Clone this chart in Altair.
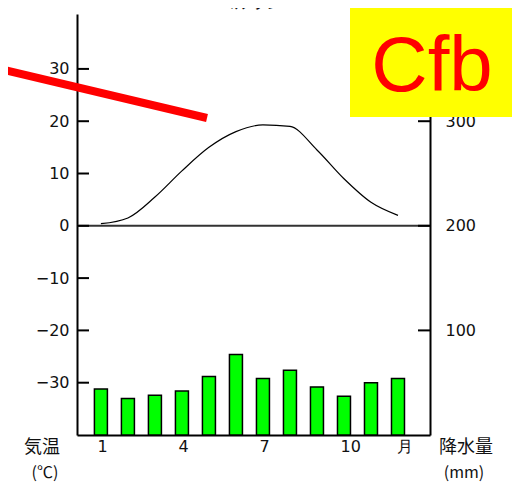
import altair as alt
import pandas as pd

# ---- data ----
months = list(range(1, 13))
temperature = [0.4, 1.5, 5.5, 10.5, 15.0, 18.0, 19.3, 19.0, 14.5, 9.0, 4.5, 2.0]
precipitation = [44, 35, 38, 42, 56, 77, 54, 62, 46, 37, 50, 54]
temp_ticks = [-30, -20, -10, 0, 10, 20, 30]
precip_ticks = [100, 200, 300]
month_ticks = [1, 4, 7, 10, 12.1]
title_text = ["ベルリン"]
badge_text = ["Cfb"]
temp_label = ["気温", "(℃)"]
precip_label = ["降水量", "(mm)"]

df = pd.DataFrame({"month": months, "temp": temperature, "precip": precipitation})
# precipitation drawn on the shared scale: 0 mm at -40 °C, 200 mm at 0 °C
P_PER_DEG = 5.0
P_BASE = -40.0
ptick_df = pd.DataFrame({"p": precip_ticks})

FONT = "Noto Sans CJK JP"
NUMFONT = "DejaVu Sans"
W, H = 353, 421

xscale = alt.Scale(domain=[0.3, 13.0], nice=False, zero=False)
tscale = alt.Scale(domain=[-40, 40.5], nice=False, zero=False)

x_axis = alt.Axis(values=month_ticks, labelExpr="datum.value > 11 ? '月' : datum.label",
                  ticks=False, grid=False, domainColor="black", domainWidth=2,
                  labelFontSize=16, labelPadding=3, labelColor="#111", labelFont=NUMFONT,
                  labelAlign="left", labelOffset=-4, title=None, orient="bottom")

left_axis = alt.Axis(values=temp_ticks, ticks=False, grid=False, domainColor="black",
                     domainWidth=2, labelPadding=8, labelFontSize=16, labelColor="#111",
                     labelFont=NUMFONT, title=None, orient="left")
right_vals = [p / P_PER_DEG + P_BASE for p in precip_ticks]
right_axis = alt.Axis(values=right_vals, orient="right", ticks=False, grid=False,
                      domainColor="black", domainWidth=2, labelPadding=15, labelFontSize=16,
                      labelColor="#111", labelFont=NUMFONT, title=None,
                      labelExpr=f"format((datum.value - ({P_BASE})) * {P_PER_DEG}, 'd')")

temp_line = alt.Chart(df).mark_line(color="black", strokeWidth=1.2, interpolate="monotone").encode(
    x=alt.X("month:Q", scale=xscale, axis=x_axis),
    y=alt.Y("temp:Q", scale=tscale, axis=left_axis),
)
zero_rule = alt.Chart(pd.DataFrame({"t": [0]})).mark_rule(color="#333", strokeWidth=2).encode(
    y=alt.Y("t:Q", scale=tscale, axis=None)
)
left_ticks = alt.Chart(pd.DataFrame({"t": temp_ticks})).mark_rule(color="black", strokeWidth=2).encode(
    y=alt.Y("t:Q", scale=tscale, axis=None), x=alt.value(0), x2=alt.value(12)
)

bars = alt.Chart(df).transform_calculate(
    peq=f"datum.precip / {P_PER_DEG} + ({P_BASE})", base=f"{P_BASE}"
).mark_bar(size=13, color="#00FF00", stroke="black", strokeWidth=1.5).encode(
    x=alt.X("month:Q", scale=xscale, axis=None),
    y=alt.Y("peq:Q", scale=tscale, axis=right_axis),
    y2="base:Q",
)
right_ticks = alt.Chart(ptick_df).transform_calculate(
    peq=f"datum.p / {P_PER_DEG} + ({P_BASE})"
).mark_rule(color="black", strokeWidth=2).encode(
    y=alt.Y("peq:Q", scale=tscale, axis=None), x=alt.value(W - 12), x2=alt.value(W)
)

# ---- annotations ----
red_line = alt.Chart(pd.DataFrame({"a": [0]})).mark_rule(color="#FF0000", strokeWidth=8).encode(
    x=alt.value(-77), x2=alt.value(130), y=alt.value(55), y2=alt.value(104)
)
yellow_box = alt.Chart(pd.DataFrame({"a": [0]})).mark_rect(color="#FFFF00").encode(
    x=alt.value(273), x2=alt.value(439), y=alt.value(-14), y2=alt.value(103)
)
badge = alt.Chart(pd.DataFrame({"label": badge_text})).mark_text(
    font="Liberation Sans", fontSize=78, color="#FF0000", align="center", baseline="alphabetic"
).encode(text="label:N", x=alt.value(355), y=alt.value(77))
title = alt.Chart(pd.DataFrame({"label": title_text})).mark_text(
    font=FONT, fontSize=16, color="#111", align="center", baseline="bottom"
).encode(text="label:N", x=alt.value(173), y=alt.value(-2))
tl1 = alt.Chart(pd.DataFrame({"label": temp_label[:1]})).mark_text(
    font=FONT, fontSize=18, color="#111", align="center", baseline="middle"
).encode(text="label:N", x=alt.value(-35), y=alt.value(434))
tl2 = alt.Chart(pd.DataFrame({"label": temp_label[1:]})).mark_text(
    font=FONT, fontSize=16, color="#111", align="center", baseline="middle"
).encode(text="label:N", x=alt.value(-32), y=alt.value(459))
pl1 = alt.Chart(pd.DataFrame({"label": precip_label[:1]})).mark_text(
    font=FONT, fontSize=18, color="#111", align="center", baseline="middle"
).encode(text="label:N", x=alt.value(389), y=alt.value(434))
pl2 = alt.Chart(pd.DataFrame({"label": precip_label[1:]})).mark_text(
    font=FONT, fontSize=16, color="#111", align="center", baseline="middle"
).encode(text="label:N", x=alt.value(387), y=alt.value(459))

chart = alt.layer(
    zero_rule, left_ticks, temp_line, bars, right_ticks,
    tl1, tl2, pl1, pl2, red_line, yellow_box, badge, title,
).resolve_axis(x="independent", y="independent").properties(
    width=W, height=H,
    autosize=alt.AutoSizeParams(type="none"),
    padding={"left": 69, "top": 6, "right": 82, "bottom": 55},
).configure_view(stroke=None)

chart.save("out.html", embed_options={"renderer": "svg", "actions": False})
